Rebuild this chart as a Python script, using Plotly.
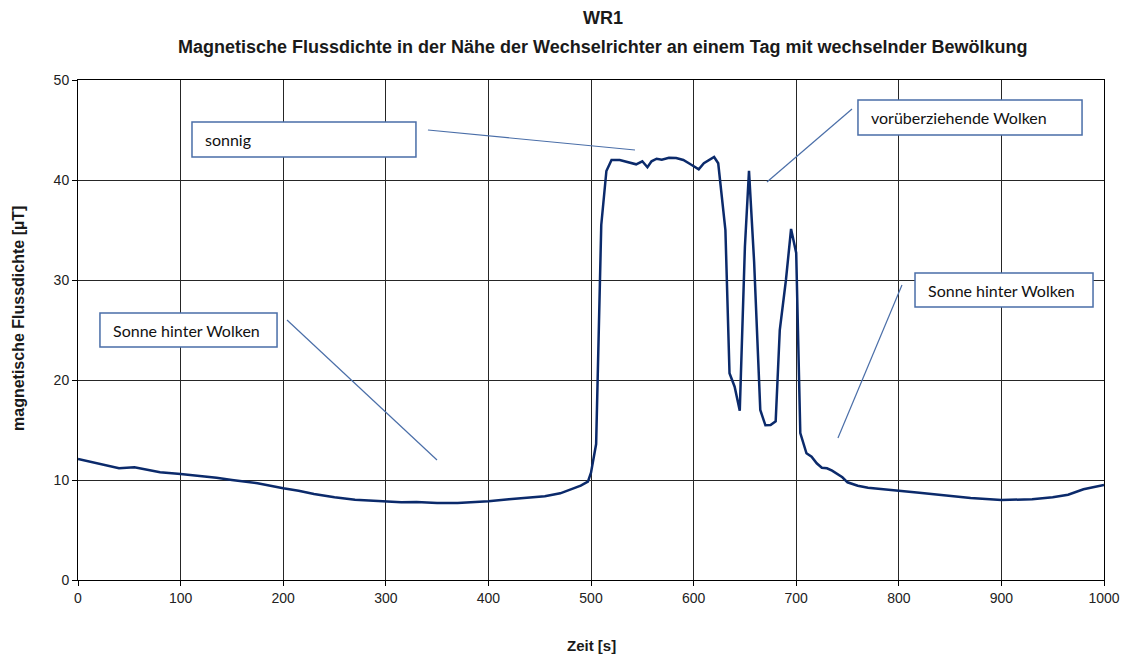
import plotly.graph_objects as go

# Data
zeit_s = [0, 15, 40, 55, 70, 80, 100, 120, 135, 150, 175, 200, 215, 230, 250, 270,
          300, 315, 330, 350, 370, 400, 420, 440, 455, 470, 490, 497, 500, 505,
          510, 515, 520, 528, 536, 544, 550, 555, 559, 564, 569, 576, 583, 590,
          597, 605, 610, 615, 620, 624, 631, 635, 640, 645, 650, 654, 659, 665,
          670, 675, 680, 684, 690, 695, 700, 704, 710, 715, 720, 725, 730, 735,
          745, 750, 760, 770, 790, 800, 820, 850, 870, 900, 930, 950, 965, 980, 1000]
flussdichte_uT = [12.1, 11.73, 11.17, 11.27, 11.0, 10.77, 10.6, 10.43, 10.23, 10.0, 9.67, 9.17,
                  8.93, 8.6, 8.27, 8.03, 7.83, 7.77, 7.8, 7.7, 7.7, 7.87, 8.07, 8.27, 8.37,
                  8.67, 9.43, 9.83, 10.73, 13.6,
                  35.5, 40.9, 42.0, 42.0, 41.8, 41.57, 41.87, 41.27, 41.87, 42.13, 42.03,
                  42.23, 42.2, 42.0, 41.57, 41.07, 41.67, 41.97, 42.3, 41.67, 35.0, 20.67,
                  19.33, 16.93, 33.3, 40.93, 31.8, 17.0, 15.47, 15.5, 15.87, 25.0, 30.0,
                  35.1, 32.7, 14.7, 12.67, 12.33, 11.67, 11.23, 11.17, 10.93, 10.27, 9.77,
                  9.43, 9.23, 9.07, 8.93, 8.73, 8.4, 8.2, 8.0, 8.07, 8.27, 8.53, 9.07, 9.5]

x_ticks = [0, 100, 200, 300, 400, 500, 600, 700, 800, 900, 1000]
y_ticks = [0, 10, 20, 30, 40, 50]

labels = ["sonnig", "Sonne hinter Wolken", "vorüberziehende Wolken", "Sonne hinter Wolken"]

title_main = "WR1"
title_sub = "Magnetische Flussdichte in der Nähe der Wechselrichter an einem Tag mit wechselnder Bewölkung"
x_title = "Zeit [s]"
y_title = "magnetische Flussdichte [µT]"

SANS = "Liberation Sans, Arial, sans-serif"

fig = go.Figure()
fig.add_trace(go.Scatter(
    x=zeit_s, y=flussdichte_uT, mode="lines",
    line=dict(color="#0B2A6B", width=2.5),
    showlegend=False, hoverinfo="skip"))

box_color = "#4A6EA8"
boxes = [
    (111.1, 329.4, 42.3, 45.8, 0),
    (21.4, 194.0, 23.3, 26.7, 1),
    (760.2, 978.6, 44.5, 48.0, 2),
    (815.8, 989.3, 27.3, 30.7, 3),
]
leaders = [
    (341.1, 45.0, 542.9, 43.0),
    (203.7, 26.0, 349.9, 12.0),
    (754.4, 47.1, 671.5, 39.8),
    (803.1, 29.5, 740.7, 14.2),
]
shapes = []
annotations = []
for x0, x1, y0, y1, i in boxes:
    shapes.append(dict(type="rect", xref="x", yref="y", x0=x0, x1=x1, y0=y0, y1=y1,
                       line=dict(color=box_color, width=1.5), fillcolor="white", layer="above"))
    annotations.append(dict(x=x0 + 10.5, y=(y0 + y1) / 2, xref="x", yref="y",
                            text=labels[i], showarrow=False, xanchor="left", yanchor="middle",
                            font=dict(family="Lato, Open Sans, sans-serif", size=16, color="#111111")))
for xa, ya, xb, yb in leaders:
    shapes.append(dict(type="line", xref="x", yref="y", x0=xa, y0=ya, x1=xb, y1=yb,
                       line=dict(color=box_color, width=1.2), layer="above"))

annotations += [
    dict(text="<b>" + title_main + "</b>", x=0.5117, y=1.124, xref="paper", yref="paper",
         showarrow=False, xanchor="center", yanchor="middle",
         font=dict(family=SANS, size=18, color="#1a1a1a")),
    dict(text="<b>" + title_sub + "</b>", x=0.5117, y=1.067, xref="paper", yref="paper",
         showarrow=False, xanchor="center", yanchor="middle",
         font=dict(family=SANS, size=18, color="#1a1a1a")),
    dict(text="<b>" + x_title + "</b>", x=0.5, y=-0.13, xref="paper", yref="paper",
         showarrow=False, xanchor="center", yanchor="middle",
         font=dict(family=SANS, size=15, color="#1a1a1a")),
    dict(text="<b>" + y_title + "</b>", x=-0.0585, y=0.524, xref="paper", yref="paper",
         showarrow=False, xanchor="center", yanchor="middle", textangle=-90,
         font=dict(family=SANS, size=16, color="#1a1a1a")),
]

fig.update_layout(
    width=1126, height=655,
    margin=dict(l=78, r=22, t=80, b=75, autoexpand=False),
    paper_bgcolor="white", plot_bgcolor="white",
    shapes=shapes, annotations=annotations,
    font=dict(family=SANS, size=14, color="#222222"),
)
fig.update_xaxes(
    range=[0, 1000], tickvals=x_ticks, ticks="outside", ticklen=5, tickcolor="black",
    showgrid=True, gridcolor="#262626", gridwidth=1, automargin=False,
    showline=True, linecolor="black", linewidth=1, mirror=True, zeroline=False)
fig.update_yaxes(
    range=[0, 50], tickvals=y_ticks, ticks="outside", ticklen=5, tickcolor="black",
    showgrid=True, gridcolor="#262626", gridwidth=1, automargin=False,
    showline=True, linecolor="black", linewidth=1, mirror=True, zeroline=False)

fig.write_html("out.html", config={"displayModeBar": False},
               post_script="document.body.style.margin='0';document.body.style.overflow='hidden';")
